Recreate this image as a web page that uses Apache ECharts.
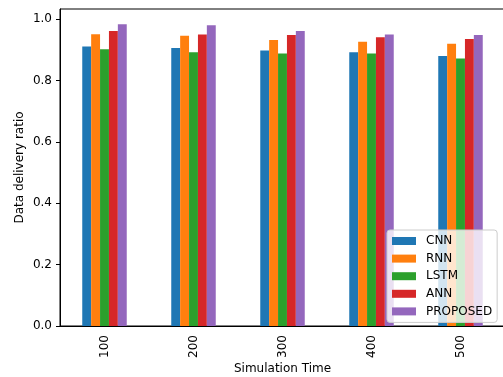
<!DOCTYPE html>
<html>
<head>
<meta charset="utf-8">
<script src="https://cdn.jsdelivr.net/npm/echarts@6/dist/echarts.min.js"></script>
<style>html,body{margin:0;padding:0;background:#fff}#c{width:503px;height:377px}</style>
</head>
<body>
<div id="c"></div>
<script>
const categories = ['100', '200', '300', '400', '500'];
const seriesNames = ['CNN', 'RNN', 'LSTM', 'ANN', 'PROPOSED'];
const cnn = [0.911, 0.906, 0.898, 0.892, 0.880];
const rnn = [0.951, 0.946, 0.932, 0.926, 0.920];
const lstm = [0.902, 0.892, 0.888, 0.888, 0.872];
const ann = [0.961, 0.950, 0.948, 0.941, 0.935];
const proposed = [0.983, 0.980, 0.961, 0.950, 0.948];
const yTicks = [0, 0.2, 0.4, 0.6, 0.8, 1.0];
const colors = ['#1f77b4', '#ff7f0e', '#2ca02c', '#d62728', '#9467bd'];
const values = [cnn, rnn, lstm, ann, proposed];

const font = 'DejaVu Sans';
const chart = echarts.init(document.getElementById('c'), null, {renderer: 'canvas'});
chart.setOption({
  animation: false,
  backgroundColor: '#fff',
  grid: {left: 60, top: 9, bottom: 51, width: 445, outerBoundsMode: 'none', containLabel: false,
    show: true, borderColor: '#000', borderWidth: 1, backgroundColor: 'transparent'},
  legend: {
    orient: 'vertical', left: 387, top: 230,
    data: seriesNames,
    itemWidth: 24, itemHeight: 8, itemGap: 3.6,
    padding: [4, 5, 4, 5],
    backgroundColor: 'rgba(255,255,255,0.8)',
    borderColor: '#cccccc', borderWidth: 1, borderRadius: 3,
    icon: 'rect',
    textStyle: {fontFamily: font, fontSize: 12, color: '#000', padding: [0, 0, 0, 5], lineHeight: 14}
  },
  xAxis: {
    type: 'category', data: categories,
    name: 'Simulation Time', nameLocation: 'middle', nameGap: 37, nameMoveOverlap: false,
    nameTextStyle: {fontFamily: font, fontSize: 12, color: '#000'},
    axisLine: {lineStyle: {color: '#000', width: 1}},
    axisTick: {alignWithLabel: true, length: 4, lineStyle: {color: '#000'}},
    axisLabel: {rotate: 90, fontFamily: font, fontSize: 12, color: '#000', margin: 9},
    splitLine: {show: false}
  },
  yAxis: {
    type: 'value', min: 0, max: 1.033,
    name: 'Data delivery ratio', nameLocation: 'middle', nameGap: 34, nameMoveOverlap: false,
    nameTextStyle: {fontFamily: font, fontSize: 12, color: '#000'},
    axisLine: {show: true, lineStyle: {color: '#000', width: 1}},
    axisTick: {show: true, length: 4, lineStyle: {color: '#000'}, customValues: yTicks},
    axisLabel: {fontFamily: font, fontSize: 12, color: '#000', margin: 8, customValues: yTicks,
      formatter: v => v.toFixed(1)},
    splitLine: {show: false}
  },
  series: seriesNames.map((n, i) => ({
    name: n, type: 'bar', data: values[i],
    itemStyle: {color: colors[i]},
    barGap: '0%', barCategoryGap: '50%'
  }))
});
</script>
</body>
</html>
